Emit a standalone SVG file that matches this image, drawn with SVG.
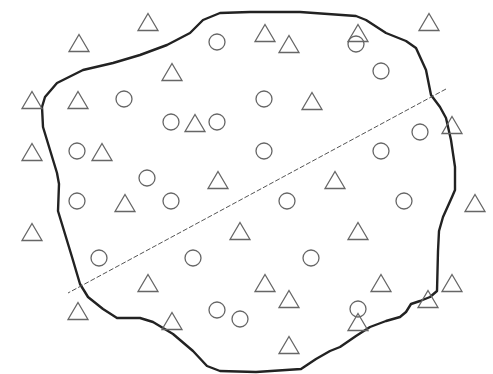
<svg xmlns="http://www.w3.org/2000/svg" xmlns:xlink="http://www.w3.org/1999/xlink" width="493" height="374" viewBox="0 0 493 374">
<style>
.m{fill:none;stroke:#666;stroke-width:1.3}
.b{fill:none;stroke:#222;stroke-width:2.4;stroke-linejoin:round}
.d{fill:none;stroke:#555;stroke-width:1;stroke-dasharray:5 2}
</style>
<defs>
<path id="t" class="m" d="M0,-8.5 L10,8.5 L-10,8.5 Z"/>
<circle id="c" class="m" r="8"/>
</defs>
<rect width="493" height="374" fill="#fff"/>
<path class="b" d="M220,13 L250,12 L300,12 L356,16 L366,20 L386,33 L406,41 L416,48 L426,70 L431,95 L440,107 L446,118 L451,140 L455,167 L455,190 L452,197 L443,217 L439,231 L438,251 L437,291 L430,297 L420,301 L411,304 L406,312 L400,317 L386,321 L370,327 L356,336 L340,347 L330,351 L316,359 L301,369 L286,370 L256,372 L220,371 L207,366 L193,351 L173,334 L153,322 L140,318 L117,318 L103,309 L88,297 L80,284 L72,257 L65,234 L58,211 L59,184 L57,173 L50,150 L43,127 L42,107 L45,97 L57,83 L83,70 L113,63 L140,55 L167,45 L190,33 L203,20 Z"/>
<line class="d" x1="446" y1="89" x2="68" y2="293"/>
<g id="triangles">
<use href="#t" x="148" y="22"/><use href="#t" x="79" y="43"/><use href="#t" x="172" y="72"/>
<use href="#t" x="32" y="100"/><use href="#t" x="78" y="100"/><use href="#t" x="195" y="123"/>
<use href="#t" x="32" y="152"/><use href="#t" x="102" y="152"/><use href="#t" x="218" y="180"/>
<use href="#t" x="265" y="33"/><use href="#t" x="289" y="44"/><use href="#t" x="358" y="33"/>
<use href="#t" x="429" y="22"/><use href="#t" x="312" y="101"/><use href="#t" x="452" y="125"/>
<use href="#t" x="335" y="180"/><use href="#t" x="125" y="203"/><use href="#t" x="32" y="232"/>
<use href="#t" x="240" y="231"/><use href="#t" x="148" y="283"/><use href="#t" x="78" y="311"/>
<use href="#t" x="172" y="321"/><use href="#t" x="475" y="203"/><use href="#t" x="358" y="231"/>
<use href="#t" x="265" y="283"/><use href="#t" x="289" y="299"/><use href="#t" x="381" y="283"/>
<use href="#t" x="452" y="283"/><use href="#t" x="428" y="299"/><use href="#t" x="358" y="322"/>
<use href="#t" x="289" y="345"/>
</g>
<g id="circles">
<use href="#c" x="217" y="42"/><use href="#c" x="124" y="99"/><use href="#c" x="171" y="122"/>
<use href="#c" x="217" y="122"/><use href="#c" x="77" y="151"/><use href="#c" x="147" y="178"/>
<use href="#c" x="356" y="44"/><use href="#c" x="381" y="71"/><use href="#c" x="264" y="99"/>
<use href="#c" x="420" y="132"/><use href="#c" x="264" y="151"/><use href="#c" x="381" y="151"/>
<use href="#c" x="77" y="201"/><use href="#c" x="171" y="201"/><use href="#c" x="99" y="258"/>
<use href="#c" x="193" y="258"/><use href="#c" x="217" y="310"/><use href="#c" x="240" y="319"/>
<use href="#c" x="287" y="201"/><use href="#c" x="404" y="201"/><use href="#c" x="311" y="258"/>
<use href="#c" x="358" y="309"/>
</g>
</svg>
